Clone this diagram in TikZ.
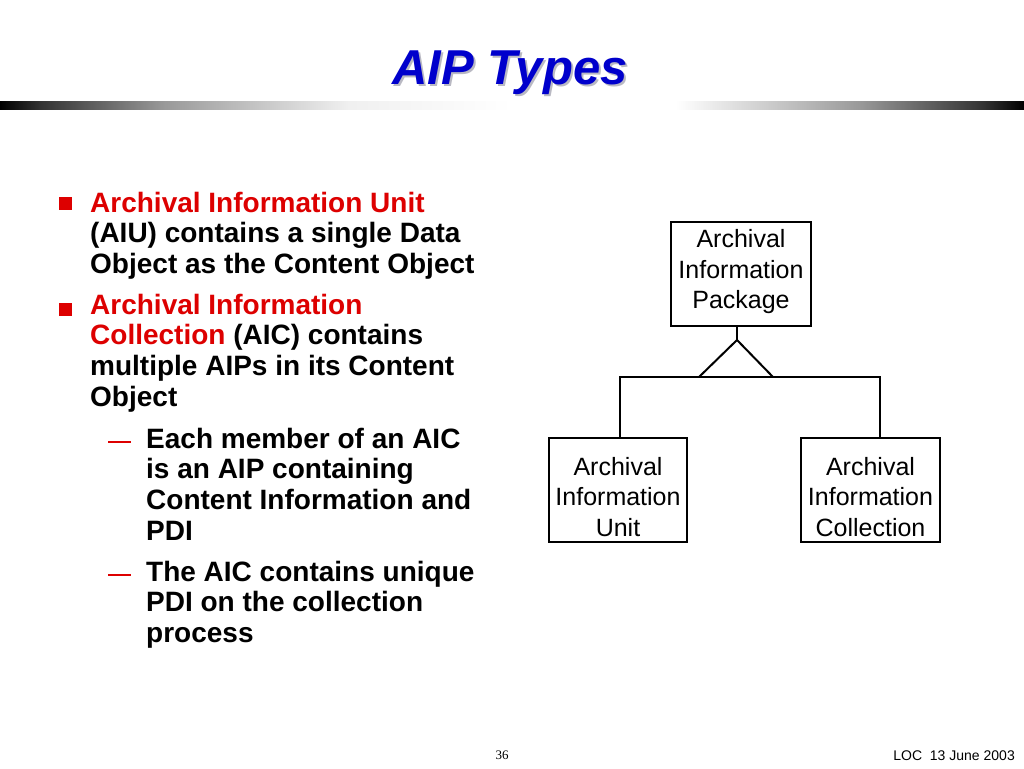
\documentclass[tikz,border=0pt]{standalone}
\usepackage{fontspec}
\setmainfont{Liberation Sans}
\newfontfamily\timesfont{Liberation Serif}
\usetikzlibrary{positioning}

\definecolor{titleblue}{RGB}{0,0,204}
\definecolor{bulletred}{RGB}{221,0,0}
\definecolor{shadowgray}{RGB}{185,185,195}

% shading of the bar under the title
\pgfdeclarehorizontalshading{barshade}{100bp}{color(0bp)=(black); color(25bp)=(black);
  color(27bp)=(black!80); color(33bp)=(black!40); color(42bp)=(black!6); color(50bp)=(white);
  color(58bp)=(white); color(67bp)=(black!40); color(73bp)=(black!80); color(75bp)=(black); color(100bp)=(black)}

\tikzset{
  aipbox/.style={draw, line width=2pt, inner sep=0pt, minimum width=139pt, minimum height=104pt},
  boxtext/.style={align=center, inner sep=0pt, font=\fontsize{25}{30.5}\selectfont},
  link/.style={line width=2pt},
  bullettext/.style={anchor=north west, inner sep=0pt, align=left,
    font=\bfseries\fontsize{28}{30.6}\selectfont},
  subdash/.style={bulletred, line width=1.5pt}
}

\begin{document}
\begin{tikzpicture}[x=1pt, y=-1pt]
\useasboundingbox [fill=white] (0,0) rectangle (1024,768);

% Title with its shadow
\node [anchor=base, text=shadowgray, font=\bfseries\itshape\fontsize{49}{50}\selectfont] at (512,86) {AIP Types};
\node (title) [anchor=base, text=titleblue, font=\bfseries\itshape\fontsize{49}{50}\selectfont] at (510,84) {AIP Types};
\shade [shading=barshade] (0,101) rectangle (1024,109);

% Bullets
\fill [bulletred] (59,197) rectangle (72,210);
\node (aiutext) [bullettext] at (90,190.6) {\strut{\color{bulletred}Archival Information Unit}\\
  (AIU) contains a single Data\\ Object as the Content Object};
\fill [bulletred] (59,303) rectangle (72,316);
\node (aictext) [bullettext] at (90,292.6) {\strut{\color{bulletred}Archival Information}\\
  {\color{bulletred}Collection} (AIC) contains\\ multiple AIPs in its Content\\ Object};

% Sub-bullets
\draw [subdash] (108,442) -- (131,442);
\node (membertext) [bullettext] at (146,426.6) {\strut Each member of an AIC\\
  is an AIP containing\\ Content Information and\\ PDI};
\draw [subdash] (108,575) -- (131,575);
\node (pditext) [bullettext] at (146,559.6) {\strut The AIC contains unique\\
  PDI on the collection\\ process};

% Diagram
\node (aip) [aipbox, minimum width=140pt,
  label={[boxtext, yshift=2pt]center:Archival\\Information\\Package}] at (741,273.7) {};
\node (aiu) [aipbox, minimum width=138pt,
  label={[boxtext, yshift=-7pt]center:Archival\\Information\\Unit}] at (618,490) {};
\node (aic) [aipbox,
  label={[boxtext, yshift=-7pt]center:Archival\\Information\\Collection}] at (870.5,490) {};

\coordinate (apex) at (737,340);
\coordinate (baseL) at (699,377);
\coordinate (baseR) at (773,377);
\coordinate (barL) at (620,377);
\coordinate (barR) at (880,377);

\draw [link] (aip.south -| apex) -- (apex);
\draw [link, line join=miter] (baseL) -- (apex) -- (baseR);
\draw [link] (aiu.north -| barL) -- (barL) -- (barR) -- (aic.north -| barR);

% Footer
\node (pagenum) [anchor=base, inner sep=0pt, font=\timesfont\fontsize{13}{15}\selectfont] at (502,759) {36};
\node (footer) [anchor=base east, inner sep=0pt, font=\fontsize{14}{16}\selectfont] at (1015,760) {LOC~~13 June 2003};

\end{tikzpicture}
\end{document}
